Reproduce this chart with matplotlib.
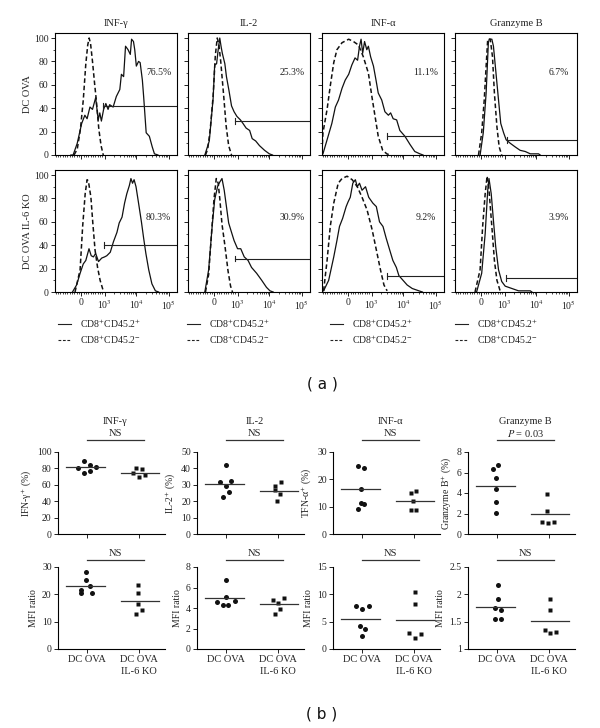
import numpy as np
import matplotlib
matplotlib.use('Agg')
import matplotlib.pyplot as plt
from matplotlib.lines import Line2D
from matplotlib.ticker import FixedLocator, MultipleLocator

plt.rcParams['font.family'] = ['Liberation Serif', 'DejaVu Serif']
plt.rcParams['mathtext.fontset'] = 'stix'
plt.rcParams['axes.linewidth'] = 0.8

# ---------------- (a) flow cytometry histograms ----------------
# x is given in display units of the biexponential axis (decades)
columns = ['INF-γ', 'IL-2', 'INF-α', 'Granzyme B']
rows = ['DC OVA', 'DC OVA IL-6 KO']
axis_ticks_u = [0.83, 1.56, 2.56, 3.58]
axis_tick_labels = ['0', '10$^3$', '10$^4$', '10$^5$']

ifng_ova_pos_u = [0.50, 0.57, 0.70, 0.84, 0.94, 1.01, 1.10, 1.18, 1.28, 1.36, 1.41, 1.46, 1.53, 1.60,
                  1.67, 1.72, 1.83, 1.93, 2.04, 2.09, 2.16, 2.22, 2.30, 2.37, 2.41, 2.47, 2.51, 2.56,
                  2.63, 2.68, 2.75, 2.79, 2.87, 2.97, 3.06, 3.13, 3.24]
ifng_ova_pos_y = [0, 0, 10, 27, 34, 31, 41, 39, 49, 30, 36, 29, 39, 44, 39, 43, 41, 50, 56, 69, 67,
                  93, 90, 86, 99, 97, 90, 76, 80, 79, 64, 50, 19, 16, 7, 1, 0]
ifng_ova_neg_u = [0.60, 0.70, 0.80, 0.89, 0.97, 1.03, 1.075, 1.12, 1.18, 1.25, 1.30, 1.38, 1.45, 1.52]
ifng_ova_neg_y = [0, 5, 22, 47, 78, 94, 100, 95, 80, 60, 47, 22, 8, 0]

il2_ova_pos_u = [0.53, 0.67, 0.79, 0.84, 0.90, 0.95, 1.00, 1.04, 1.08, 1.16, 1.21, 1.29, 1.37, 1.45,
                 1.54, 1.65, 1.73, 1.83, 1.94, 2.02, 2.13, 2.25, 2.41, 2.56, 2.66]
il2_ova_pos_y = [0, 12, 48, 77, 78, 90, 100, 93, 87, 78, 67, 55, 42, 37, 33, 30, 27, 23, 21, 14,
                 12, 8, 4, 1, 0]
il2_ova_neg_u = [0.55, 0.62, 0.70, 0.79, 0.86, 0.92, 0.97, 1.03, 1.125, 1.20, 1.28, 1.37]
il2_ova_neg_y = [0, 5, 22, 50, 85, 100, 95, 80, 50, 25, 8, 0]

ifna_ova_pos_u = [0.00, 0.03, 0.16, 0.31, 0.42, 0.52, 0.63, 0.73, 0.84, 0.94, 1.04, 1.12, 1.18, 1.23,
                  1.28, 1.34, 1.41, 1.46, 1.53, 1.62, 1.70, 1.77, 1.88, 1.98, 2.09, 2.16, 2.24, 2.35,
                  2.45, 2.61, 2.77, 2.92, 3.08, 3.18]
ifna_ova_pos_y = [0, 1, 13, 27, 41, 47, 57, 64, 69, 77, 83, 81, 93, 99, 87, 97, 90, 93, 84, 76, 64,
                  53, 47, 37, 34, 36, 31, 30, 21, 16, 9, 3, 1, 0]
ifna_ova_neg_u = [0.00, 0.03, 0.16, 0.26, 0.37, 0.47, 0.63, 0.84, 0.99, 1.15, 1.30, 1.46, 1.57, 1.67,
                  1.77, 1.91, 2.04, 2.14]
ifna_ova_neg_y = [3, 19, 39, 59, 79, 90, 96, 99, 97, 94, 84, 70, 50, 33, 16, 4, 1, 0]

gzmb_ova_pos_u = [0.79, 0.89, 0.98, 1.05, 1.08, 1.16, 1.21, 1.29, 1.37, 1.44, 1.53, 1.61, 1.74, 1.89,
                  2.05, 2.21, 2.37, 2.63, 2.68]
gzmb_ova_pos_y = [0, 19, 53, 96, 99, 99, 93, 70, 47, 27, 19, 13, 10, 7, 4, 3, 1, 1, 0]
gzmb_ova_neg_u = [0.74, 0.84, 0.92, 0.98, 1.03, 1.11, 1.18, 1.24, 1.32, 1.39, 1.47]
gzmb_ova_neg_y = [0, 19, 47, 76, 99, 99, 84, 53, 24, 7, 0]

ifng_ko_pos_u = [0.55, 0.68, 0.79, 0.89, 0.97, 1.03, 1.07, 1.14, 1.21, 1.28, 1.37, 1.47, 1.56, 1.63,
                 1.74, 1.84, 1.95, 2.02, 2.11, 2.19, 2.26, 2.34, 2.39, 2.44, 2.49, 2.55, 2.63, 2.72,
                 2.79, 2.86, 2.95, 3.05, 3.16, 3.26]
ifng_ko_pos_y = [0, 6, 16, 24, 27, 33, 37, 31, 30, 33, 26, 29, 30, 31, 34, 43, 51, 59, 64, 76, 84,
                 91, 97, 93, 96, 90, 76, 60, 46, 33, 19, 7, 1, 0]
ifng_ko_neg_u = [0.63, 0.79, 0.87, 0.95, 1.01, 1.05, 1.13, 1.19, 1.26, 1.34, 1.42, 1.53]
ifng_ko_neg_y = [0, 19, 56, 84, 96, 95, 81, 59, 36, 21, 10, 0]

il2_ko_pos_u = [0.53, 0.65, 0.76, 0.84, 0.93, 1.00, 1.07, 1.14, 1.21, 1.28, 1.37, 1.45, 1.56, 1.66,
                1.77, 1.89, 2.00, 2.16, 2.32, 2.47, 2.58, 2.68]
il2_ko_pos_y = [0, 19, 56, 79, 90, 94, 97, 87, 73, 59, 51, 44, 37, 37, 30, 27, 21, 16, 10, 4, 1, 0]
il2_ko_neg_u = [0.55, 0.65, 0.74, 0.82, 0.89, 0.95, 1.00, 1.07, 1.16, 1.26, 1.34, 1.40]
il2_ko_neg_y = [0, 15, 50, 80, 97, 93, 80, 58, 40, 18, 5, 0]

ifna_ko_pos_u = [0.05, 0.21, 0.37, 0.47, 0.55, 0.65, 0.76, 0.82, 0.89, 0.97, 1.05, 1.11, 1.18, 1.26,
                 1.37, 1.47, 1.60, 1.71, 1.81, 1.92, 2.02, 2.13, 2.23, 2.34, 2.42, 2.55, 2.68, 2.84,
                 3.05, 3.16]
ifna_ko_pos_y = [1, 10, 30, 44, 56, 63, 73, 77, 81, 93, 96, 90, 93, 87, 90, 81, 76, 73, 60, 56, 46,
                 36, 27, 21, 14, 10, 6, 3, 1, 0]
ifna_ko_neg_u = [0.05, 0.16, 0.26, 0.37, 0.51, 0.63, 0.79, 0.95, 1.11, 1.26, 1.42, 1.58, 1.71, 1.84,
                 1.95, 2.05]
ifna_ko_neg_y = [1, 27, 56, 76, 93, 97, 99, 96, 90, 81, 70, 53, 36, 19, 6, 1]

gzmb_ko_pos_u = [0.68, 0.84, 0.95, 1.03, 1.07, 1.14, 1.21, 1.28, 1.37, 1.47, 1.58, 1.79, 2.00, 2.37, 2.42]
gzmb_ko_pos_y = [0, 16, 50, 87, 97, 84, 61, 39, 19, 9, 5, 3, 1, 1, 0]
gzmb_ko_neg_u = [0.63, 0.79, 0.87, 0.95, 1.01, 1.07, 1.16, 1.24, 1.32, 1.42]
gzmb_ko_neg_y = [0, 19, 56, 84, 99, 87, 56, 27, 10, 1]

gate_pct = [['76.5%', '25.3%', '11.1%', '6.7%'], ['80.3%', '30.9%', '9.2%', '3.9%']]
gate_start = [[1.50, 1.47, 2.06, 1.63], [1.53, 1.49, 2.05, 1.60]]
gate_level = [[42, 29, 16, 13], [40, 28.6, 13.4, 11.7]]

hist_curves = [
    [(ifng_ova_pos_u, ifng_ova_pos_y, ifng_ova_neg_u, ifng_ova_neg_y),
     (il2_ova_pos_u, il2_ova_pos_y, il2_ova_neg_u, il2_ova_neg_y),
     (ifna_ova_pos_u, ifna_ova_pos_y, ifna_ova_neg_u, ifna_ova_neg_y),
     (gzmb_ova_pos_u, gzmb_ova_pos_y, gzmb_ova_neg_u, gzmb_ova_neg_y)],
    [(ifng_ko_pos_u, ifng_ko_pos_y, ifng_ko_neg_u, ifng_ko_neg_y),
     (il2_ko_pos_u, il2_ko_pos_y, il2_ko_neg_u, il2_ko_neg_y),
     (ifna_ko_pos_u, ifna_ko_pos_y, ifna_ko_neg_u, ifna_ko_neg_y),
     (gzmb_ko_pos_u, gzmb_ko_pos_y, gzmb_ko_neg_u, gzmb_ko_neg_y)],
]

# ---------------- (b) dot plots ----------------
groups = ['DC OVA', 'DC OVA\nIL-6 KO']

ifng_pct_ova = [80.8, 89.0, 84.5, 81.6, 74.7, 76.7]
ifng_pct_ko = [80.8, 78.8, 74.3, 69.4, 71.4]
il2_pct_ova = [42.2, 31.6, 32.2, 29.2, 25.9, 22.4]
il2_pct_ko = [29.0, 31.6, 26.9, 24.1, 20.0]
ifna_pct_ova = [24.9, 24.2, 16.5, 11.5, 11.0, 9.3]
ifna_pct_ko = [14.9, 15.6, 11.9, 8.8, 8.9]
gzmb_pct_ova = [6.76, 6.33, 5.49, 4.41, 3.17, 2.02]
gzmb_pct_ko = [3.92, 2.29, 1.18, 1.11, 1.14]

ifng_mfi_ova = [28.0, 25.1, 21.7, 22.9, 20.6, 20.5]
ifng_mfi_ko = [23.3, 20.5, 16.5, 14.4, 12.9]
il2_mfi_ova = [6.76, 5.07, 4.59, 4.68, 4.33, 4.33]
il2_mfi_ko = [4.75, 4.49, 4.94, 3.93, 3.45]
ifna_mfi_ova = [7.93, 7.32, 7.80, 4.27, 3.72, 2.32]
ifna_mfi_ko = [10.4, 8.23, 2.93, 2.07, 2.68]
gzmb_mfi_ova = [2.17, 1.91, 1.75, 1.71, 1.55, 1.55]
gzmb_mfi_ko = [1.91, 1.72, 1.34, 1.29, 1.32]

# horizontal scatter of the dots inside each group
ifng_pct_jit = ([-0.16, -0.05, 0.06, 0.17, -0.05, 0.06], [-0.05, 0.05, -0.11, 0.0, 0.11])
il2_pct_jit = ([0.0, -0.11, 0.11, 0.0, 0.06, -0.05], [-0.06, 0.06, -0.06, 0.04, -0.01])
ifna_pct_jit = ([-0.07, 0.04, -0.01, -0.02, 0.04, -0.07], [-0.06, 0.04, -0.01, -0.06, 0.04])
gzmb_pct_jit = ([0.03, -0.08, -0.02, -0.02, -0.02, -0.02], [-0.03, -0.03, -0.14, -0.02, 0.10])
ifng_mfi_jit = ([-0.01, -0.01, -0.11, 0.06, -0.10, 0.10], [-0.01, -0.01, -0.01, 0.05, -0.06])
il2_mfi_jit = ([0.0, 0.0, -0.17, 0.17, -0.06, 0.05], [-0.10, 0.0, 0.11, 0.04, -0.05])
ifna_mfi_jit = ([-0.10, 0.01, 0.14, -0.04, 0.06, 0.01], [0.02, 0.02, -0.09, 0.02, 0.13])
gzmb_mfi_jit = ([0.02, 0.02, -0.03, 0.08, -0.03, 0.08], [0.02, 0.02, -0.08, 0.03, 0.13])

pct_means = [[81.6, 75.0], [30.6, 26.5], [16.3, 12.0], [4.67, 1.93]]
mfi_means = [[23.2, 17.7], [4.94, 4.36], [5.55, 5.24], [1.77, 1.52]]

pct_labels = ['IFN-γ$^{+}$ (%)', 'IL-2$^{+}$ (%)', 'TFN-α$^{+}$ (%)', 'Granzyme B$^{+}$ (%)']
pct_stats = ['NS', 'NS', 'NS', '$P$ = 0.03']
mfi_stats = ['NS', 'NS', 'NS', 'NS']
pct_ylims = [(0, 100), (0, 50), (0, 30), (0, 8)]
pct_ysteps = [20, 10, 10, 2]
mfi_ylims = [(0, 30), (0, 8), (0, 15), (1, 2.5)]
mfi_ysteps = [10, 2, 5, 0.5]

pct_data = [(ifng_pct_ova, ifng_pct_ko, ifng_pct_jit), (il2_pct_ova, il2_pct_ko, il2_pct_jit),
            (ifna_pct_ova, ifna_pct_ko, ifna_pct_jit), (gzmb_pct_ova, gzmb_pct_ko, gzmb_pct_jit)]
mfi_data = [(ifng_mfi_ova, ifng_mfi_ko, ifng_mfi_jit), (il2_mfi_ova, il2_mfi_ko, il2_mfi_jit),
            (ifna_mfi_ova, ifna_mfi_ko, ifna_mfi_jit), (gzmb_mfi_ova, gzmb_mfi_ko, gzmb_mfi_jit)]

# ---------------- layout (pixels of a 600x728 canvas) ----------------
W, H = 600, 728
fig = plt.figure(figsize=(6.0, 7.28), dpi=100)
fig.patch.set_facecolor('white')


def fx(px):
    return px / W


def fy(py):
    return 1 - py / H


def add_px_axes(left, top, width, height):
    return fig.add_axes([fx(left), fy(top + height), width / W, height / H])


hist_left = [55, 188, 322, 455]
hist_top = [33, 170]
hist_size = 122
U_MAX = 3.84

# minor ticks of the biexponential axis
lin_step = (axis_ticks_u[1] - axis_ticks_u[0]) / 10
minor_u = [axis_ticks_u[0] + k * lin_step for k in range(-11, 10) if k != 0]
for d in range(1, 3):
    a, b = axis_ticks_u[d], axis_ticks_u[d + 1]
    minor_u += [a + np.log10(k) * (b - a) for k in range(2, 10)]
minor_u = [m for m in minor_u if 0 < m < U_MAX]

for r in range(2):
    for c in range(4):
        ax = add_px_axes(hist_left[c], hist_top[r], hist_size, hist_size)
        pos_u, pos_y, neg_u, neg_y = hist_curves[r][c]
        ax.plot(neg_u, neg_y, color='#111111', lw=1.1, ls=(0, (3, 1.8)))
        ax.plot(pos_u, pos_y, color='#111111', lw=0.9)
        g0, lvl = gate_start[r][c], gate_level[r][c]
        ax.plot([g0, U_MAX], [lvl, lvl], color='#222222', lw=0.8)
        ax.plot([g0, g0], [lvl - 2.5, lvl + 2.5], color='#222222', lw=0.8)
        ax.text(0.85, 0.68 if r == 0 else 0.61, gate_pct[r][c], transform=ax.transAxes,
                ha='center', va='center', fontsize=7, color='#222222')
        ax.set_xlim(0, U_MAX)
        ax.set_ylim(0, 104.3)
        ax.xaxis.set_major_locator(FixedLocator(axis_ticks_u))
        ax.xaxis.set_minor_locator(FixedLocator(minor_u))
        ax.yaxis.set_major_locator(MultipleLocator(20))
        ax.yaxis.set_minor_locator(MultipleLocator(10))
        ax.set_yticks([0, 20, 40, 60, 80, 100])
        ax.tick_params(which='major', length=3, width=0.7, labelsize=7, pad=1.5, colors='#222222')
        ax.tick_params(which='minor', length=1.5, width=0.5)
        if r == 1:
            ax.set_xticklabels(axis_tick_labels)
        else:
            ax.set_xticklabels([])
        if c != 0:
            ax.set_yticklabels([])
        if r == 0:
            ax.text(0.5, 1.075, columns[c], transform=ax.transAxes, ha='center', va='center',
                    fontsize=7.5, color='#222222')

for r in range(2):
    fig.text(fx(28), fy(hist_top[r] + hist_size / 2), rows[r], rotation=90, ha='center',
             va='center', fontsize=7.5, color='#222222')

# legends below each column
leg_x = [58, 187, 330, 455]
for c in range(4):
    x0 = leg_x[c]
    fig.add_artist(Line2D([fx(x0), fx(x0 + 13)], [fy(324), fy(324)], color='#222222', lw=0.8))
    fig.add_artist(Line2D([fx(x0), fx(x0 + 13)], [fy(340), fy(340)], color='#222222', lw=0.8,
                          ls=(0, (2.5, 1.5))))
    fig.text(fx(x0 + 22), fy(324), 'CD8$^{+}$CD45.2$^{+}$', ha='left', va='center', fontsize=7,
             color='#222222')
    fig.text(fx(x0 + 22), fy(340), 'CD8$^{+}$CD45.2$^{-}$', ha='left', va='center', fontsize=7,
             color='#222222')

fig.text(fx(322), fy(384), '( a )', ha='center', va='center', fontsize=11,
         family='DejaVu Sans', color='#111111')

# ---------------- (b) ----------------
sc_left = [58, 197, 333, 468]
sc_top = [452, 567]
sc_w, sc_h = 107, 82

for r in range(2):
    data = pct_data if r == 0 else mfi_data
    means = pct_means if r == 0 else mfi_means
    ylims = pct_ylims if r == 0 else mfi_ylims
    ysteps = pct_ysteps if r == 0 else mfi_ysteps
    stats = pct_stats if r == 0 else mfi_stats
    for c in range(4):
        ax = add_px_axes(sc_left[c], sc_top[r], sc_w, sc_h)
        ova, ko, (jit0, jit1) = data[c]
        ax.plot(np.array(jit0), ova, 'o', ms=3.6, color='#111111', mec='none')
        ax.plot(1 + np.array(jit1), ko, 's', ms=3.4, color='#111111', mec='none')
        m0, m1 = means[c]
        ax.plot([-0.40, 0.35], [m0, m0], color='#333333', lw=0.9)
        ax.plot([0.65, 1.38], [m1, m1], color='#333333', lw=0.9)

        ax.set_xlim(-0.55, 1.5)
        ax.set_ylim(*ylims[c])
        ax.yaxis.set_major_locator(MultipleLocator(ysteps[c]))
        ax.set_xticks([0, 1])
        ax.spines['top'].set_visible(False)
        ax.spines['right'].set_visible(False)
        ax.tick_params(length=3, width=0.7, labelsize=7, pad=1.5, colors='#222222')
        if c == 3 and r == 1:
            ax.set_yticks([1, 1.5, 2, 2.5])
            ax.set_yticklabels(['1', '1.5', '2', '2.5'])
        if r == 1:
            ax.set_xticklabels(groups, fontsize=7.5, linespacing=1.35)
            ax.set_ylabel('MFI ratio', fontsize=7, labelpad=3, color='#222222')
        else:
            ax.set_xticklabels([])
            ax.set_ylabel(pct_labels[c], fontsize=7, labelpad=3, color='#222222')

        tr = ax.get_xaxis_transform()
        bar_y = 1.15 if r == 0 else 1.09
        ax.plot([0.0, 1.1], [bar_y, bar_y], color='#333333', lw=0.9, transform=tr, clip_on=False)
        ax.text(0.55, bar_y + 0.075, stats[c], transform=tr, ha='center', va='center',
                fontsize=7.5, color='#222222')
        if r == 0:
            ax.text(0.55, bar_y + 0.22, columns[c], transform=tr, ha='center', va='center',
                    fontsize=7.5, color='#222222')

fig.text(fx(322), fy(714), '( b )', ha='center', va='center', fontsize=11,
         family='DejaVu Sans', color='#111111')

fig.savefig('out.png', dpi=100, facecolor='white')
